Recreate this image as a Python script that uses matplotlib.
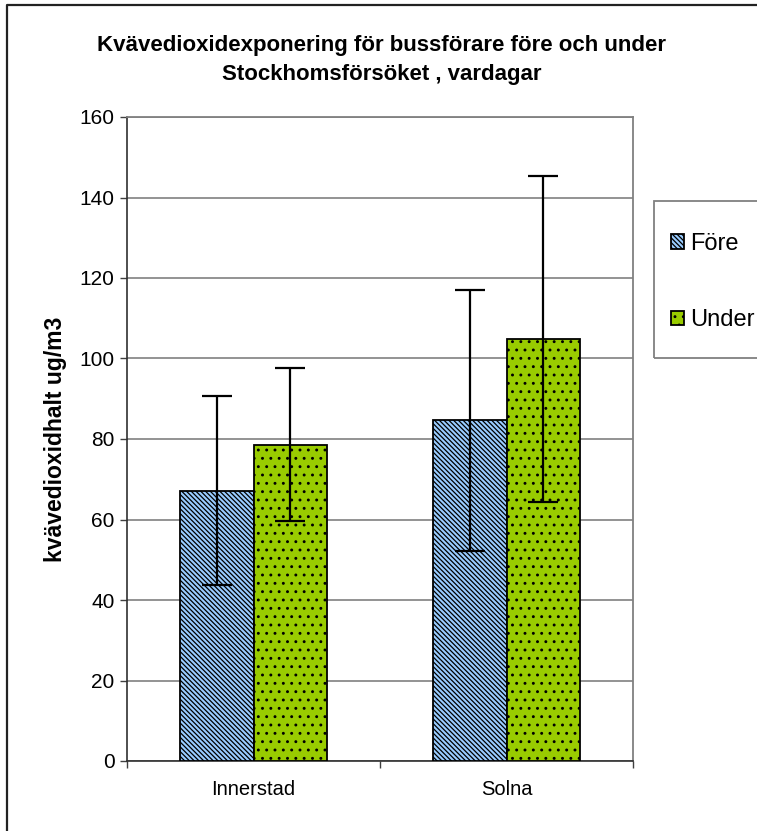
import matplotlib.pyplot as plt
from matplotlib.lines import Line2D
from matplotlib.patches import Rectangle
import numpy as np

plt.rcParams['font.family'] = ['Liberation Sans', 'DejaVu Sans']
plt.rcParams['hatch.linewidth'] = 0.9

categories = ["Innerstad", "Solna"]
series = ["Före", "Under"]
fore_vals = [67.2, 84.6]
under_vals = [78.6, 104.8]
fore_err = [23.5, 32.5]
under_err = [19.0, 40.5]

W, H = 757, 831
fig = plt.figure(figsize=(W / 100, H / 100), dpi=100)
ax = fig.add_axes([127 / W, 1 - 761 / H, (633 - 127) / W, (761 - 117) / H])

x = np.arange(len(categories))
bw = 0.29
err_kw = dict(ecolor="black", elinewidth=1.6, capsize=10.5, capthick=1.6)
b1 = ax.bar(x - bw / 2, fore_vals, bw, yerr=fore_err, color="#99CCFF",
            edgecolor="black", hatch="\\" * 7, linewidth=1.3, label=series[0],
            error_kw=err_kw, zorder=3)
b2 = ax.bar(x + bw / 2, under_vals, bw, yerr=under_err, color="#99CC00",
            edgecolor="black", hatch="..", linewidth=1.3, label=series[1],
            error_kw=err_kw, zorder=3)

ax.set_xlim(-0.5, 1.5)
ax.set_ylim(0, 160)
ax.set_yticks(np.arange(0, 161, 20))
ax.yaxis.grid(True, color="#808080", linewidth=1.2, zorder=0)
ax.set_axisbelow(True)

ax.set_xticks(x)
ax.set_xticklabels(categories, fontsize=14.5)
ax.set_xticks([-0.5, 0.5, 1.5], minor=True)
ax.tick_params(axis="x", which="major", length=0, pad=14)
ax.tick_params(axis="x", which="minor", length=5, width=1, color="#404040")
ax.tick_params(axis="y", length=5, width=1, labelsize=15, pad=4, color="#404040")

for s in ["top", "right"]:
    ax.spines[s].set_color("#808080")
    ax.spines[s].set_linewidth(1.3)
for s in ["left", "bottom"]:
    ax.spines[s].set_color("#303030")
    ax.spines[s].set_linewidth(1.2)

ax.set_ylabel("kvävedioxidhalt ug/m3", fontsize=16.5, fontweight="bold", labelpad=9)

fig.text(0.504, 1 - 60 / H,
         "Kvävedioxidexponering för bussförare före och under\nStockhomsförsöket , vardagar",
         ha="center", va="center", fontsize=16, fontweight="bold", linespacing=1.5)

# outer chart border
fig.add_artist(Line2D([7.3 / W, 7.3 / W, 1.0], [0.0, 1 - 5.3 / H, 1 - 5.3 / H],
                      transform=fig.transFigure, color="#222222", linewidth=1.6))

# legend frame (runs off the right edge, as in the original)
fig.add_artist(Rectangle((654 / W, 1 - 358 / H), 0.2, (358 - 201) / H,
                         transform=fig.transFigure, facecolor="none",
                         edgecolor="#808080", linewidth=1.3))
fig.legend(handles=[b1, b2], labels=series, loc="upper left",
           bbox_to_anchor=(659 / W, 1 - 221 / H), frameon=False,
           fontsize=17, borderpad=0, labelspacing=2.3,
           handlelength=0.55, handleheight=0.55, handletextpad=0.25)

fig.savefig("out.png", dpi=100)
